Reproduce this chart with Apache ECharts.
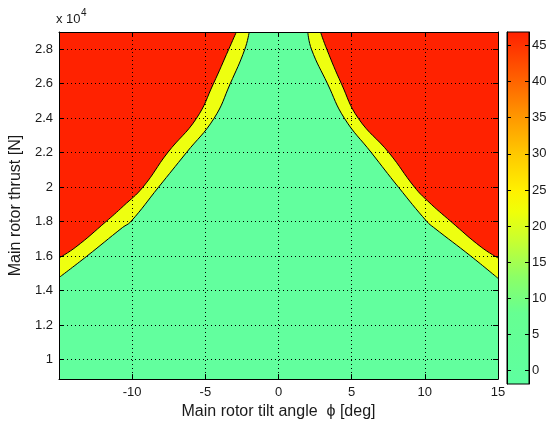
<!DOCTYPE html>
<html><head><meta charset="utf-8">
<script src="https://cdn.jsdelivr.net/npm/echarts@6/dist/echarts.min.js"></script>
<style>html,body{margin:0;padding:0;background:#fff}#c{width:550px;height:425px}</style>
</head><body><div id="c"></div>
<script>
// ---- axes / ticks ----
const xRange = [-15, 15];
const yRange = [8875, 29000];
const cbRange = [-1.84, 46.84];
const yTicks = [10000, 12000, 14000, 16000, 18000, 20000, 22000, 24000, 26000, 28000];
const cbTicks = [0, 5, 10, 15, 20, 25, 30, 35, 40, 45];

// ---- contour boundaries (tilt angle deg, thrust N) ----
// green / yellow boundary
const leftLowX  = [-15, -13.1, -10.65, -10.1, -8.2, -6.3, -4.4, -3.3, -2.3, -2.0];
const leftLowY  = [14760, 16000, 17670, 18000, 20000, 22000, 24000, 26000, 28000, 29000];
const rightLowX = [2.0, 2.25, 3.35, 4.5, 6.35, 8.2, 10.15, 10.6, 13.15, 15];
const rightLowY = [29000, 28000, 26000, 24000, 22000, 20000, 18000, 17670, 16000, 14720];
// yellow / red boundary
const leftHighX  = [-15, -13.85, -11.8, -10.6, -9.27, -7.58, -5.6, -4.45, -3.4, -2.88];
const leftHighY  = [15900, 16530, 18000, 18910, 20000, 22000, 24000, 26000, 28000, 29000];
const rightHighX = [2.87, 3.3, 4.3, 5.45, 7.55, 9.3, 10.2, 11.8, 13.85, 15];
const rightHighY = [29000, 28000, 26000, 24000, 22000, 20000, 19200, 18000, 16530, 15900];

// ---- colours ----
const greenFill = '#62FF9E';
const yellowFill = '#EEFF10';
const redFill = '#FF2200';
const cbStopVals   = [-1.84, 8, 13, 18, 22, 25, 30, 35, 40, 46.84];
const cbStopColors = ['#5EFFA0', '#66FF92', '#8CFF66', '#C8FF30', '#F0FF08', '#FFF000', '#FFC800', '#FF9800', '#FF6400', '#FF2000'];

const FONT = '"Liberation Sans", Arial, sans-serif';
const TXT = '#1a1a1a';

function pts(xs, ys) { return xs.map((x, i) => [x, ys[i]]); }

function band(data, color, z) {
  return {
    type: 'line', xAxisIndex: 0, yAxisIndex: 0, data: data, symbol: 'none',
    smooth: 0.45, z: z, silent: true,
    lineStyle: { color: '#000', width: 1 },
    areaStyle: { color: color, opacity: 1, origin: 'end' }
  };
}

const axisLineS = { show: true, onZero: false, lineStyle: { color: '#000', width: 1 } };
const dotted = { show: true, lineStyle: { type: [1, 3], color: '#000', width: 1 } };
const lab = { fontSize: 13, color: TXT, fontFamily: FONT };

const stops = cbStopVals.map((v, i) => ({
  offset: (v - cbRange[0]) / (cbRange[1] - cbRange[0]), color: cbStopColors[i]
}));

const chart = echarts.init(document.getElementById('c'), null, { renderer: 'canvas' });
chart.setOption({
  animation: false,
  backgroundColor: '#fff',
  title: [
    { text: 'x 10', left: 56, top: 13, padding: 0, textStyle: { fontSize: 13, fontWeight: 'normal', color: TXT, fontFamily: FONT } },
    { text: '4', left: 81, top: 8, padding: 0, textStyle: { fontSize: 10, fontWeight: 'normal', color: TXT, fontFamily: FONT } }
  ],
  grid: [
    { left: 57, right: 52, top: 32, bottom: 41, show: true, backgroundColor: greenFill, borderWidth: 0 },
    { left: 507, right: 21, top: 32, bottom: 41 }
  ],
  xAxis: [
    { gridIndex: 0, type: 'value', min: xRange[0], max: xRange[1], interval: 5, position: 'bottom', z: 10,
      axisLine: axisLineS, axisTick: { show: true, inside: true, length: 5, lineStyle: { color: '#000' } },
      axisLabel: Object.assign({ showMinLabel: false, margin: 7 }, lab),
      splitLine: dotted,
      name: 'Main rotor tilt angle  \u03D5 [deg]', nameLocation: 'middle', nameGap: 24,
      nameTextStyle: { fontSize: 16, color: TXT, fontFamily: FONT } },
    { gridIndex: 0, type: 'value', min: xRange[0], max: xRange[1], interval: 5, position: 'top', z: 10,
      axisLine: axisLineS, axisTick: { show: true, inside: true, length: 5, lineStyle: { color: '#000' } },
      axisLabel: { show: false }, splitLine: { show: false } },
    { gridIndex: 1, type: 'value', min: 0, max: 1, show: false }
  ],
  yAxis: [
    { gridIndex: 0, type: 'value', min: yRange[0], max: yRange[1], position: 'left', z: 10,
      axisLine: axisLineS,
      axisTick: { show: true, inside: true, length: 5, customValues: yTicks, lineStyle: { color: '#000' } },
      axisLabel: Object.assign({ customValues: yTicks, margin: 6,
        formatter: v => String(+(v / 1e4).toFixed(1)) }, lab),
      splitLine: dotted,
      name: 'Main rotor thrust [N]', nameLocation: 'middle', nameGap: 35,
      nameTextStyle: { fontSize: 16, color: TXT, fontFamily: FONT } },
    { gridIndex: 0, type: 'value', min: yRange[0], max: yRange[1], position: 'right', z: 10,
      axisLine: axisLineS,
      axisTick: { show: true, inside: true, length: 5, customValues: yTicks, lineStyle: { color: '#000' } },
      axisLabel: { show: false, customValues: yTicks }, splitLine: { show: false } },
    { gridIndex: 1, type: 'value', min: cbRange[0], max: cbRange[1], position: 'right', z: 10,
      axisLine: axisLineS,
      axisTick: { show: true, inside: true, length: 4, customValues: cbTicks, lineStyle: { color: '#000' } },
      axisLabel: Object.assign({ customValues: cbTicks, margin: 3 }, lab),
      splitLine: { show: false } },
    { gridIndex: 1, type: 'value', min: cbRange[0], max: cbRange[1], position: 'left', z: 10,
      axisLine: axisLineS,
      axisTick: { show: true, inside: true, length: 4, customValues: cbTicks, lineStyle: { color: '#000' } },
      axisLabel: { show: false, customValues: cbTicks }, splitLine: { show: false } }
  ],
  series: [
    band(pts(leftLowX, leftLowY), yellowFill, 2),
    band(pts(rightLowX, rightLowY), yellowFill, 2),
    band(pts(leftHighX, leftHighY), redFill, 3),
    band(pts(rightHighX, rightHighY), redFill, 3),
    { type: 'custom', xAxisIndex: 2, yAxisIndex: 2, silent: true, z: 2,
      data: [[0, cbRange[0], 1, cbRange[1]]],
      renderItem: function (params, api) {
        const a = api.coord([api.value(0), api.value(1)]);
        const b = api.coord([api.value(2), api.value(3)]);
        return { type: 'rect',
          shape: { x: a[0], y: b[1], width: b[0] - a[0], height: a[1] - b[1] },
          style: { fill: new echarts.graphic.LinearGradient(0, 1, 0, 0, stops), stroke: '#000', lineWidth: 1 } };
      } }
  ]
});
</script></body></html>
